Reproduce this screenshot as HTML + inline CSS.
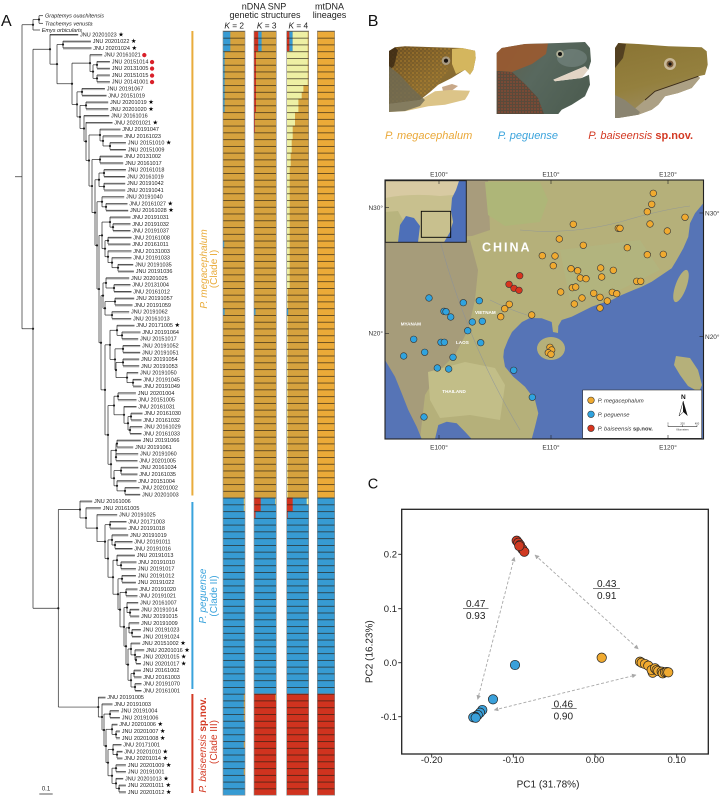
<!DOCTYPE html>
<html><head><meta charset="utf-8">
<style>
html,body{margin:0;padding:0;background:#fff;}
body{width:721px;height:796px;position:relative;overflow:hidden;font-family:"Liberation Sans","DejaVu Sans",sans-serif;}
svg{position:absolute;left:0;top:0;}
.s{font-size:6.2px;fill:#000;font-family:"DejaVu Sans",sans-serif;}
.rd{font-size:5.6px;fill:#d9202a;font-family:"DejaVu Sans",sans-serif;}
#tree line{stroke:#2a2a2a;stroke-width:0.7;}
#tree line.gb{stroke:#b4b4b4;stroke-width:1.5;}
#tree circle{fill:#1a1a1a;}
</style></head><body>
<svg width="721" height="796" viewBox="0 0 721 796" xmlns="http://www.w3.org/2000/svg">
<defs>
<pattern id="sep" x="0" y="31" width="10" height="6.763" patternUnits="userSpaceOnUse"><rect x="0" y="0" width="10" height="0.75" fill="#241d10" fill-opacity="0.85"/></pattern>
<linearGradient id="h1" x1="0" y1="0" x2="1" y2="1"><stop offset="0" stop-color="#6A4E22"/><stop offset="0.55" stop-color="#8A6C30"/><stop offset="1" stop-color="#7A6638"/></linearGradient>
<pattern id="sp1" width="4" height="4" patternUnits="userSpaceOnUse"><circle cx="1" cy="1" r="0.65" fill="#E0A030"/><circle cx="3" cy="3" r="0.5" fill="#D09030"/></pattern>
<linearGradient id="h2" x1="0" y1="0" x2="1" y2="0.5"><stop offset="0" stop-color="#5E5E4A"/><stop offset="0.5" stop-color="#58685E"/><stop offset="1" stop-color="#4E5E52"/></linearGradient>
<pattern id="sp2" width="3" height="3" patternUnits="userSpaceOnUse"><circle cx="1" cy="1" r="0.6" fill="#D2482A"/></pattern>
<linearGradient id="h3" x1="0" y1="0" x2="0.3" y2="1"><stop offset="0" stop-color="#8A7434"/><stop offset="0.6" stop-color="#94803E"/><stop offset="1" stop-color="#9C8C60"/></linearGradient>
<clipPath id="mapc"><rect x="385" y="180" width="318.5" height="259"/></clipPath>
<clipPath id="insc"><rect x="385.3" y="180.7" width="81" height="61.6"/></clipPath>
<marker id="ah" viewBox="0 0 10 10" refX="9" refY="5" markerWidth="5" markerHeight="5" orient="auto-start-reverse"><path d="M0,0 L10,5 L0,10 z" fill="#a8a8a8"/></marker>
</defs>

<!-- ===== PANEL A ===== -->
<text x="1" y="26" font-size="16" fill="#111">A</text>

<g fill="#222" text-anchor="middle">
<text x="264" y="9.3" font-size="9">nDNA SNP</text>
<text x="265" y="18" font-size="9">genetic structures</text>
<text x="329.5" y="9.3" font-size="9">mtDNA</text>
<text x="329.5" y="18" font-size="9">lineages</text>
<text x="234.2" y="28.3" font-size="8.3"><tspan font-style="italic">K</tspan> = 2</text>
<text x="266.7" y="28.3" font-size="8.3"><tspan font-style="italic">K</tspan> = 3</text>
<text x="298.3" y="28.3" font-size="8.3"><tspan font-style="italic">K</tspan> = 4</text>
</g>

<g stroke="#2a2a2a" stroke-width="0.7">
<line x1="39" y1="15.7" x2="39" y2="23.3"/>
<line x1="39" y1="15.7" x2="43" y2="15.7"/>
<line x1="39" y1="23.3" x2="43" y2="23.3"/>
<line x1="33" y1="19.5" x2="33" y2="30"/>
<line x1="33" y1="19.5" x2="39" y2="19.5"/>
<line x1="33" y1="30" x2="40" y2="30"/>
<line x1="22" y1="24.75" x2="33" y2="24.75"/>
</g>
<circle cx="39" cy="19.5" r="1.1" fill="#1a1a1a"/>
<circle cx="33" cy="24.75" r="1.1" fill="#1a1a1a"/>
<g font-size="5.5" font-style="italic" fill="#222">
<text x="45" y="17.7">Graptemys ouachitensis</text>
<text x="45" y="25.3">Trachemys venusta</text>
<text x="41.7" y="32">Emys orbicularis</text>
</g>

<g id="tree"></g>

<text font-size="5.5" fill="#222">
<tspan x="80" y="36.4">JNU 20201023</tspan><tspan class="s" dx="1.5">★</tspan>
<tspan x="92.7" dy="6.763">JNU 20201022</tspan><tspan class="s" dx="1.5">★</tspan>
<tspan x="93.3" dy="6.763">JNU 20201024</tspan><tspan class="s" dx="1.5">★</tspan>
<tspan x="104" dy="6.763">JNU 20161021</tspan><tspan class="rd" dx="1.2">●</tspan>
<tspan x="111.7" dy="6.763">JNU 20151014</tspan><tspan class="rd" dx="1.2">●</tspan>
<tspan x="111.7" dy="6.763">JNU 20131005</tspan><tspan class="rd" dx="1.2">●</tspan>
<tspan x="111.7" dy="6.763">JNU 20151015</tspan><tspan class="rd" dx="1.2">●</tspan>
<tspan x="111.7" dy="6.763">JNU 20141001</tspan><tspan class="rd" dx="1.2">●</tspan>
<tspan x="106.7" dy="6.763">JNU 20191067</tspan>
<tspan x="108.3" dy="6.763">JNU 20151019</tspan>
<tspan x="110" dy="6.763">JNU 20201019</tspan><tspan class="s" dx="1.5">★</tspan>
<tspan x="110" dy="6.763">JNU 20201020</tspan><tspan class="s" dx="1.5">★</tspan>
<tspan x="111" dy="6.763">JNU 20161016</tspan>
<tspan x="114.3" dy="6.763">JNU 20201021</tspan><tspan class="s" dx="1.5">★</tspan>
<tspan x="122.3" dy="6.763">JNU 20191047</tspan>
<tspan x="124.3" dy="6.763">JNU 20161023</tspan>
<tspan x="127.7" dy="6.763">JNU 20151010</tspan><tspan class="s" dx="1.5">★</tspan>
<tspan x="127.7" dy="6.763">JNU 20151009</tspan>
<tspan x="124.3" dy="6.763">JNU 20131002</tspan>
<tspan x="125" dy="6.763">JNU 20161017</tspan>
<tspan x="127.7" dy="6.763">JNU 20161018</tspan>
<tspan x="127" dy="6.763">JNU 20161019</tspan>
<tspan x="127" dy="6.763">JNU 20191042</tspan>
<tspan x="127" dy="6.763">JNU 20191041</tspan>
<tspan x="126" dy="6.763">JNU 20191040</tspan>
<tspan x="129.3" dy="6.763">JNU 20161027</tspan><tspan class="s" dx="1.5">★</tspan>
<tspan x="130" dy="6.763">JNU 20161028</tspan><tspan class="s" dx="1.5">★</tspan>
<tspan x="132.3" dy="6.763">JNU 20191031</tspan>
<tspan x="132.3" dy="6.763">JNU 20191032</tspan>
<tspan x="132.3" dy="6.763">JNU 20191037</tspan>
<tspan x="133.3" dy="6.763">JNU 20161008</tspan>
<tspan x="132.3" dy="6.763">JNU 20161011</tspan>
<tspan x="133.3" dy="6.763">JNU 20131003</tspan>
<tspan x="133.3" dy="6.763">JNU 20191033</tspan>
<tspan x="135" dy="6.763">JNU 20191035</tspan>
<tspan x="135.7" dy="6.763">JNU 20191036</tspan>
<tspan x="131" dy="6.763">JNU 20201025</tspan>
<tspan x="132.3" dy="6.763">JNU 20131004</tspan>
<tspan x="133.3" dy="6.763">JNU 20161012</tspan>
<tspan x="136" dy="6.763">JNU 20191057</tspan>
<tspan x="134.3" dy="6.763">JNU 20191059</tspan>
<tspan x="131" dy="6.763">JNU 20191062</tspan>
<tspan x="133" dy="6.763">JNU 20161013</tspan>
<tspan x="136.3" dy="6.763">JNU 20171005</tspan><tspan class="s" dx="1.5">★</tspan>
<tspan x="142.3" dy="6.763">JNU 20191064</tspan>
<tspan x="140" dy="6.763">JNU 20151017</tspan>
<tspan x="142" dy="6.763">JNU 20191052</tspan>
<tspan x="142" dy="6.763">JNU 20191051</tspan>
<tspan x="141" dy="6.763">JNU 20191054</tspan>
<tspan x="141" dy="6.763">JNU 20191053</tspan>
<tspan x="140" dy="6.763">JNU 20191050</tspan>
<tspan x="143.3" dy="6.763">JNU 20191045</tspan>
<tspan x="143.3" dy="6.763">JNU 20191049</tspan>
<tspan x="137.7" dy="6.763">JNU 20201004</tspan>
<tspan x="138.3" dy="6.763">JNU 20151005</tspan>
<tspan x="138.3" dy="6.763">JNU 20161031</tspan>
<tspan x="144.3" dy="6.763">JNU 20161030</tspan>
<tspan x="143.3" dy="6.763">JNU 20161032</tspan>
<tspan x="144" dy="6.763">JNU 20161029</tspan>
<tspan x="143.3" dy="6.763">JNU 20161033</tspan>
<tspan x="142.7" dy="6.763">JNU 20191066</tspan>
<tspan x="135" dy="6.763">JNU 20191061</tspan>
<tspan x="140" dy="6.763">JNU 20191060</tspan>
<tspan x="139.3" dy="6.763">JNU 20201005</tspan>
<tspan x="140" dy="6.763">JNU 20161034</tspan>
<tspan x="139.3" dy="6.763">JNU 20161035</tspan>
<tspan x="138.3" dy="6.763">JNU 20151004</tspan>
<tspan x="141.3" dy="6.763">JNU 20201002</tspan>
<tspan x="142" dy="6.763">JNU 20201003</tspan>
<tspan x="94" dy="6.763">JNU 20161006</tspan>
<tspan x="102.7" dy="6.763">JNU 20161005</tspan>
<tspan x="119" dy="6.763">JNU 20191025</tspan>
<tspan x="128.3" dy="6.763">JNU 20171003</tspan>
<tspan x="128.3" dy="6.763">JNU 20191018</tspan>
<tspan x="130" dy="6.763">JNU 20191019</tspan>
<tspan x="134.3" dy="6.763">JNU 20191011</tspan>
<tspan x="134.3" dy="6.763">JNU 20191016</tspan>
<tspan x="136.7" dy="6.763">JNU 20191013</tspan>
<tspan x="138.3" dy="6.763">JNU 20191010</tspan>
<tspan x="137.7" dy="6.763">JNU 20191017</tspan>
<tspan x="137.7" dy="6.763">JNU 20191012</tspan>
<tspan x="137.7" dy="6.763">JNU 20191022</tspan>
<tspan x="139.3" dy="6.763">JNU 20191020</tspan>
<tspan x="139.3" dy="6.763">JNU 20191021</tspan>
<tspan x="140" dy="6.763">JNU 20161007</tspan>
<tspan x="141" dy="6.763">JNU 20191014</tspan>
<tspan x="141" dy="6.763">JNU 20191015</tspan>
<tspan x="141" dy="6.763">JNU 20191009</tspan>
<tspan x="142.7" dy="6.763">JNU 20191023</tspan>
<tspan x="142.7" dy="6.763">JNU 20191024</tspan>
<tspan x="142" dy="6.763">JNU 20151002</tspan><tspan class="s" dx="1.5">★</tspan>
<tspan x="146" dy="6.763">JNU 20201016</tspan><tspan class="s" dx="1.5">★</tspan>
<tspan x="142.7" dy="6.763">JNU 20201015</tspan><tspan class="s" dx="1.5">★</tspan>
<tspan x="142.7" dy="6.763">JNU 20201017</tspan><tspan class="s" dx="1.5">★</tspan>
<tspan x="142.7" dy="6.763">JNU 20161002</tspan>
<tspan x="143.3" dy="6.763">JNU 20161003</tspan>
<tspan x="143.3" dy="6.763">JNU 20191070</tspan>
<tspan x="143.3" dy="6.763">JNU 20161001</tspan>
<tspan x="107.3" dy="6.763">JNU 20191005</tspan>
<tspan x="114.3" dy="6.763">JNU 20191003</tspan>
<tspan x="120.7" dy="6.763">JNU 20191004</tspan>
<tspan x="121.7" dy="6.763">JNU 20191006</tspan>
<tspan x="119.3" dy="6.763">JNU 20201006</tspan><tspan class="s" dx="1.5">★</tspan>
<tspan x="121.7" dy="6.763">JNU 20201007</tspan><tspan class="s" dx="1.5">★</tspan>
<tspan x="121.7" dy="6.763">JNU 20201008</tspan><tspan class="s" dx="1.5">★</tspan>
<tspan x="123.3" dy="6.763">JNU 20171001</tspan>
<tspan x="124.3" dy="6.763">JNU 20201010</tspan><tspan class="s" dx="1.5">★</tspan>
<tspan x="124.3" dy="6.763">JNU 20201014</tspan><tspan class="s" dx="1.5">★</tspan>
<tspan x="127.7" dy="6.763">JNU 20201009</tspan><tspan class="s" dx="1.5">★</tspan>
<tspan x="127.7" dy="6.763">JNU 20191001</tspan>
<tspan x="125" dy="6.763">JNU 20201013</tspan><tspan class="s" dx="1.5">★</tspan>
<tspan x="127.7" dy="6.763">JNU 20201011</tspan><tspan class="s" dx="1.5">★</tspan>
<tspan x="127.7" dy="6.763">JNU 20201012</tspan><tspan class="s" dx="1.5">★</tspan>
</text>

<line x1="39.3" y1="794" x2="52.7" y2="794" stroke="#333" stroke-width="0.8"/>
<text x="46" y="790.5" font-size="6" text-anchor="middle" fill="#222">0.1</text>

<rect x="191.4" y="31" width="2" height="464.5" fill="#E9AC3C"/>
<rect x="191.4" y="502" width="2" height="187" fill="#3AA3DC"/>
<rect x="191.4" y="694" width="2" height="99" fill="#D33A24"/>
<g font-size="10" text-anchor="middle">
<text transform="translate(207,269) rotate(-90)" fill="#E9AC3C" font-style="italic">P. megacephalum</text>
<text transform="translate(217,269) rotate(-90)" fill="#E9AC3C">(Clade I)</text>
<text transform="translate(206,596) rotate(-90)" fill="#3AA3DC" font-style="italic">P. peguense</text>
<text transform="translate(217,596) rotate(-90)" fill="#3AA3DC">(Clade II)</text>
<text transform="translate(206,745) rotate(-90)" fill="#D33A24"><tspan font-style="italic">P. baiseensis </tspan><tspan font-weight="bold">sp.nov.</tspan></text>
<text transform="translate(217,742) rotate(-90)" fill="#D33A24">(Clade III)</text>
</g>

<g>
<rect x="223" y="31" width="22" height="466.65" fill="#D6A23E"/>
<rect x="223" y="497.65" width="22" height="297.57" fill="#379BD3"/>
<rect x="223" y="31" width="7.3" height="20.29" fill="#379BD3"/>
<rect x="223" y="51.29" width="1.6" height="60.87" fill="#379BD3"/>
<rect x="223" y="240.65" width="1.2" height="6.763" fill="#379BD3"/>
<rect x="223" y="308.28" width="1.6" height="6.763" fill="#379BD3"/>
<rect x="243.8" y="497.65" width="1.2" height="13.53" fill="#E8D070"/>
<rect x="243.8" y="693.77" width="1.2" height="27.05" fill="#D6A23E"/>
<rect x="243.8" y="741.1" width="1.2" height="6.763" fill="#D6A23E"/>
<rect x="243.8" y="768.15" width="1.2" height="6.763" fill="#D6A23E"/>
<rect x="254" y="31" width="22.3" height="466.65" fill="#D6A23E"/>
<rect x="254" y="497.65" width="22.3" height="196.12" fill="#379BD3"/>
<rect x="254" y="693.77" width="22.3" height="101.45" fill="#D0331F"/>
<rect x="254" y="31" width="4.3" height="20.29" fill="#D0331F"/>
<rect x="258.3" y="31" width="3.3" height="20.29" fill="#379BD3"/>
<rect x="254" y="51.29" width="2" height="60.87" fill="#D0331F"/>
<rect x="254" y="112.15" width="1" height="20.29" fill="#D0331F"/>
<rect x="254" y="308.28" width="1.5" height="6.763" fill="#379BD3"/>
<rect x="254" y="497.65" width="6.7" height="13.53" fill="#D0331F"/>
<rect x="275.3" y="497.65" width="1" height="6.763" fill="#E8D070"/>
<rect x="254" y="511.18" width="1.5" height="6.763" fill="#D0331F"/>
<rect x="275.3" y="693.77" width="1" height="6.763" fill="#D6A23E"/>
<rect x="286.7" y="31" width="22" height="466.65" fill="#D6A23E"/>
<rect x="286.7" y="497.65" width="22" height="196.12" fill="#379BD3"/>
<rect x="286.7" y="693.77" width="22" height="101.45" fill="#D0331F"/>
<rect x="286.7" y="31" width="2.7" height="20.29" fill="#D0331F"/>
<rect x="289.4" y="31" width="3.3" height="20.29" fill="#379BD3"/>
<rect x="292.7" y="31" width="15" height="20.29" fill="#EEF0A4"/>
<rect x="286.7" y="51.29" width="21" height="33.82" fill="#EEF0A4"/>
<rect x="286.7" y="85.1" width="16.7" height="6.77" fill="#EEF0A4"/>
<rect x="286.7" y="91.87" width="15" height="6.77" fill="#EEF0A4"/>
<rect x="286.7" y="98.63" width="11.7" height="13.53" fill="#EEF0A4"/>
<rect x="286.7" y="112.15" width="8.3" height="13.53" fill="#EEF0A4"/>
<rect x="286.7" y="125.68" width="6" height="13.53" fill="#EEF0A4"/>
<rect x="286.7" y="139.21" width="5" height="13.53" fill="#EEF0A4"/>
<rect x="286.7" y="152.73" width="4" height="13.53" fill="#EEF0A4"/>
<rect x="286.7" y="166.26" width="3" height="121.73" fill="#EEF0A4"/>
<rect x="286.7" y="287.99" width="1" height="209.66" fill="#EEF0A4"/>
<rect x="286.7" y="308.28" width="1.5" height="6.763" fill="#379BD3"/>
<rect x="286.7" y="497.65" width="6" height="13.53" fill="#D0331F"/>
<rect x="306.7" y="497.65" width="2" height="6.763" fill="#EEF0A4"/>
<rect x="286.7" y="511.18" width="1" height="6.763" fill="#D0331F"/>
<rect x="317.3" y="31" width="17.4" height="466.65" fill="#EBAA38"/>
<rect x="317.3" y="497.65" width="17.4" height="196.12" fill="#379BD3"/>
<rect x="317.3" y="693.77" width="17.4" height="101.45" fill="#D0331F"/>
<rect x="223" y="31" width="22" height="764.3" fill="url(#sep)"/>
<rect x="254" y="31" width="22.3" height="764.3" fill="url(#sep)"/>
<rect x="286.7" y="31" width="22" height="764.3" fill="url(#sep)"/>
<rect x="317.3" y="31" width="17.4" height="764.3" fill="url(#sep)"/>
<g fill="none" stroke="#8a8a8a" stroke-width="0.6">
<rect x="223" y="31" width="22" height="764.2"/>
<rect x="254" y="31" width="22.3" height="764.2"/>
<rect x="286.7" y="31" width="22" height="764.2"/>
<rect x="317.3" y="31" width="17.4" height="764.2"/>
</g>
</g>

<!-- ===== PANEL B ===== -->
<text x="367.7" y="26" font-size="16" fill="#111">B</text>

<!-- photo 1 -->
<g>
<path d="M389,51 L395,47.3 L405,46.3 L435,47.3 L461.7,48 L475,50.7 L475.7,58 L473.3,69.7 L470,74.7 L465,69.7 L451.7,78 L438.3,84.7 L430,92 L420,100 L389,104 Z" fill="url(#h1)"/>
<path d="M389,51 L395,47.3 L405,46.3 L435,47.3 L450,48 L448,70 L438.3,84.7 L420,100 L389,104 Z" fill="url(#sp1)" opacity="0.8"/>
<path d="M389,51 L395,47.3 L398,50 L394,66 L389,70 Z" fill="#3a2814" opacity="0.8"/>
<path d="M452,49 L461.7,48 L475,50.7 L475.7,58 L473.3,69.7 L470,74.7 L465,69.7 L456,74 L452,64 Z" fill="#D4B65E"/>
<path d="M442,87 L452,84 L458,86 L452,90.5 L443,91 Z" fill="#C8A888"/>
<path d="M435,91.3 L450,90 L470,90.7 L468,95 L465,99.7 L445,104.7 L428.3,106.3 L405,111.3 L389,112 L389,104 L420,100 Z" fill="#DCC488"/>
<path d="M389,66 L400,75 L412,88 L425,100 L420,106 L405,111 L389,112 Z" fill="#6E6A55" opacity="0.8"/>
<circle cx="446" cy="60.7" r="4.3" fill="#A89A80"/>
<circle cx="446" cy="60.7" r="2.1" fill="#1a1410"/>
</g>
<!-- photo 2 -->
<g>
<path d="M496.7,53 L501.7,48 L525,44 L558.3,43 L585,42 L590,48 L591,61.3 L588.3,69.7 L585,66.3 L565,74.7 L553.3,79.7 L555,81.3 L581.7,78 L589,74.7 L590,84.7 L585,96.3 L571.7,104.7 L561.7,109.7 L558.3,114 L496.7,114 Z" fill="url(#h2)"/>
<path d="M496.7,53 L501.7,48 L525,44 L548,43.5 L546,54 L532,64 L512,72 L496.7,71 Z" fill="#9A5A30" opacity="0.9"/>
<ellipse cx="572" cy="58" rx="15" ry="9" fill="#7C8C88" opacity="0.55"/>
<path d="M496.7,71 L512,72 L525,84 L538,98 L544,114 L496.7,114 Z" fill="#5A4A3A"/>
<path d="M496.7,71 L512,72 L525,84 L538,98 L544,114 L496.7,114 Z" fill="url(#sp2)" opacity="0.9"/>
<path d="M553.3,79.7 L565,74.7 L585,66.3 L588,70 L581.7,78 L555,81.3 Z" fill="#E2D4C4"/>
<circle cx="560" cy="54" r="3.8" fill="#B0B098"/>
<circle cx="560" cy="54" r="2" fill="#111"/>
</g>
<!-- photo 3 -->
<g>
<path d="M615,48 L618.3,43 L638.3,44 L668.3,46.3 L701.7,47.3 L706.7,51.3 L707.7,64.7 L705,74.7 L698.3,76.3 L700,78 L691.7,88 L678.3,93 L665,96.3 L658.3,104.7 L651.7,109.7 L638.3,114.7 L618.3,118 L615,118 Z" fill="url(#h3)"/>
<path d="M615,48 L618.3,43 L626,44 L623,58 L615,68 Z" fill="#3a2a18" opacity="0.7"/>
<path d="M645,100 L655,91.3 L698.3,76.3 L700,78 L691.7,88 L678.3,93 L665,96.3 L658.3,104.7 L651.7,109.7 L638.3,114.7 L632,111 Z" fill="#ACA084"/>
<path d="M645,100 L655,91.3 L698.3,76.3" stroke="#3a2a18" stroke-width="0.9" fill="none"/>
<path d="M615,95 L625,100 L640,112 L638.3,114.7 L618.3,118 L615,118 Z" fill="#8A8470"/>
<circle cx="670" cy="64" r="6" fill="#C8B898"/>
<circle cx="670" cy="64" r="3.5" fill="#7a5a38"/>
<circle cx="670" cy="64" r="1.6" fill="#111"/>
</g>
<g font-size="11">
<text x="385" y="139" fill="#EAA838" font-style="italic">P. megacephalum</text>
<text x="497.7" y="139" fill="#3AA3DC" font-style="italic">P. peguense</text>
<text x="588.3" y="139" fill="#D33A24"><tspan font-style="italic">P. baiseensis </tspan><tspan font-weight="bold">sp.nov.</tspan></text>
</g>

<g clip-path="url(#mapc)">
<rect x="385" y="180" width="318.5" height="259" fill="#B5B07A"/>
<path d="M385,240 L472,236 L490,230 L488,180 L385,180 Z" fill="#A89C7C"/>
<path d="M385,240 L470,240 L478,270 L475,300 L468,330 L455,355 L440,370 L425,395 L420,439 L385,439 Z" fill="#A69C7A"/>
<path d="M428,372 L465,362 L495,368 L505,385 L500,420 L470,415 L440,418 L430,400 Z" fill="#C2BE88"/>
<path d="M485,182 L540,182 L548,200 L540,222 L505,226 L488,215 Z" fill="#AEB678"/>
<path d="M560,250 L640,240 L660,270 L620,290 L570,300 Z" fill="#B2B47E"/>
<path d="M703.3,203.3 L695,213.3 L690,223.3 L688.3,236.7 L683.3,248.3 L676.7,260 L671.7,268.3 L661.7,275 L651.7,281.7 L641.7,286.7 L631.7,290.7 L621.7,295 L611.7,300 L601.7,303.3 L591.7,306.7 L581.7,311.7 L571.7,316.7 L561.7,320 L558.3,326 L558,333 L553,332 L551.7,322 L541.7,318.3 L530,318 L522,322 L512,332 L508,340 L504,350 L503.3,357 L505,366.7 L513.3,376.7 L525,386.7 L535,400 L538.3,413.3 L535,426.7 L531.7,439 L703.5,439 Z" fill="#5674B6"/>
<path d="M385,360 L395,376.7 L401.7,393.3 L408.3,410 L416.7,426.7 L421.7,439 L385,439 Z" fill="#5674B6"/>
<path d="M435,439 L438.3,425 L446.7,421.7 L456.7,423.3 L465,431.7 L471.7,439 Z" fill="#5674B6"/>
<ellipse cx="551" cy="348.5" rx="14" ry="11.5" fill="#B5B07A"/>
<ellipse cx="681" cy="286" rx="5.5" ry="17" transform="rotate(20 681 286)" fill="#B5B07A"/>
<path d="M676,356 L690,358 L698,370 L702,385 L699,392 L688,386 L680,375 L674,365 Z" fill="#B5B07A"/>
<g fill="none" stroke="#8890a0" stroke-width="0.6" opacity="0.7">
<path d="M440,240 Q450,280 470,330 Q490,380 520,430"/>
<path d="M490,300 Q510,310 530,316"/>
<path d="M520,230 Q570,235 620,222 Q660,210 690,206"/>
</g>
<g clip-path="url(#insc)">
<rect x="385.3" y="180.7" width="81" height="61.6" fill="#D8CAA2"/>
<path d="M385.3,198 Q410,193 440,196 L466,194 L466,242.3 L385.3,242.3 Z" fill="#C8C08E"/>
<path d="M385.3,212 L398,211 L404,222 L398,242.3 L385.3,242.3 Z" fill="#B8B47E"/>
<path d="M398,242.3 L400,225 L406,216 L414,218 L420,226 L418,242.3 Z" fill="#4D6FB8"/>
<path d="M466.3,180.7 L459,181 L456,190 L452,198 L451,210 L453,222 L450,232 L444,242.3 L466.3,242.3 Z" fill="#4D6FB8"/>
<rect x="421.3" y="211.3" width="29.4" height="26" fill="none" stroke="#000" stroke-width="0.9"/>
</g>
<rect x="385.3" y="180.7" width="81" height="61.6" fill="none" stroke="#222" stroke-width="1"/>
<g stroke="#333" stroke-width="0.6" fill="#F0AA30">
<circle cx="653.3" cy="193.3" r="3.3"/><circle cx="651.7" cy="204.3" r="3.3"/><circle cx="647.3" cy="211.7" r="3.3"/>
<circle cx="650" cy="224" r="3.3"/><circle cx="685" cy="217.3" r="3.3"/><circle cx="573.3" cy="224.3" r="3.3"/>
<circle cx="618.3" cy="228.3" r="3.3"/><circle cx="620" cy="228.3" r="3.3"/><circle cx="667.3" cy="231" r="3.3"/>
<circle cx="559.3" cy="239" r="3.3"/><circle cx="583.3" cy="245.3" r="3.3"/><circle cx="627.3" cy="247.7" r="3.3"/>
<circle cx="542.3" cy="255.7" r="3.3"/><circle cx="555" cy="256" r="3.3"/><circle cx="647.3" cy="254.7" r="3.3"/>
<circle cx="663.3" cy="254.3" r="3.3"/><circle cx="553.3" cy="265.7" r="3.3"/><circle cx="571" cy="268.7" r="3.3"/>
<circle cx="577.7" cy="270.7" r="3.3"/><circle cx="600.7" cy="268" r="3.3"/><circle cx="613.3" cy="270.3" r="3.3"/>
<circle cx="580.3" cy="278" r="3.3"/><circle cx="586" cy="278.7" r="3.3"/><circle cx="601.7" cy="277" r="3.3"/>
<circle cx="636.7" cy="281.3" r="3.3"/><circle cx="640.7" cy="281.3" r="3.3"/><circle cx="560.7" cy="292" r="3.3"/>
<circle cx="572.3" cy="287.7" r="3.3"/><circle cx="575.7" cy="287" r="3.3"/><circle cx="593.7" cy="293.3" r="3.3"/>
<circle cx="600" cy="297.3" r="3.3"/><circle cx="612.3" cy="292.3" r="3.3"/><circle cx="616.7" cy="293.7" r="3.3"/>
<circle cx="582" cy="298" r="3.3"/><circle cx="607.3" cy="301" r="3.3"/><circle cx="574.3" cy="304" r="3.3"/>
<circle cx="600" cy="308" r="3.3"/><circle cx="509.3" cy="304.3" r="3.3"/><circle cx="504.7" cy="308.7" r="3.3"/>
<circle cx="500.7" cy="316.7" r="3.3"/><circle cx="531.7" cy="315" r="3.3"/><circle cx="550" cy="347.3" r="3.3"/>
<circle cx="551.7" cy="350" r="3.3"/><circle cx="548.3" cy="352.7" r="3.3"/><circle cx="551" cy="354.3" r="3.3"/>
</g>
<g stroke="#333" stroke-width="0.6" fill="#D8341E">
<circle cx="519.7" cy="275.7" r="3.3"/><circle cx="509" cy="284.3" r="3.3"/><circle cx="514" cy="288.3" r="3.3"/><circle cx="519" cy="290.3" r="3.3"/>
</g>
<g stroke="#333" stroke-width="0.6" fill="#2FA3DF">
<circle cx="429" cy="298" r="3.3"/><circle cx="463.3" cy="302.7" r="3.3"/><circle cx="479.3" cy="300.7" r="3.3"/>
<circle cx="444" cy="311.3" r="3.3"/><circle cx="446" cy="311.7" r="3.3"/><circle cx="450.7" cy="317" r="3.3"/>
<circle cx="472.3" cy="322" r="3.3"/><circle cx="482.3" cy="321.3" r="3.3"/><circle cx="467.7" cy="330.7" r="3.3"/>
<circle cx="413.7" cy="339.3" r="3.3"/><circle cx="441" cy="342.3" r="3.3"/><circle cx="444.3" cy="342.3" r="3.3"/>
<circle cx="480.7" cy="342.7" r="3.3"/><circle cx="424.7" cy="352.3" r="3.3"/><circle cx="403.7" cy="356" r="3.3"/>
<circle cx="453" cy="357.3" r="3.3"/><circle cx="437.3" cy="368" r="3.3"/><circle cx="448.7" cy="369" r="3.3"/>
<circle cx="513.7" cy="370.3" r="3.3"/><circle cx="532.3" cy="397.3" r="3.3"/><circle cx="424" cy="417" r="3.3"/>
</g>
<text x="482" y="251.5" font-size="12.5" font-weight="bold" fill="#fff" letter-spacing="2">CHINA</text>
<g font-size="4.6" font-weight="bold" fill="#fff">
<text x="400.7" y="325.5">MYANAM</text>
<text x="456" y="344">LAOS</text>
<text x="475" y="314">VIETNAM</text>
<text x="442.3" y="392.8">THAILAND</text>
</g>
<rect x="582.7" y="390" width="119" height="48.3" fill="#fff" stroke="#333" stroke-width="0.6"/>
<circle cx="591" cy="400.3" r="3.3" fill="#F0AA30" stroke="#333" stroke-width="0.6"/>
<circle cx="591" cy="414.3" r="3.3" fill="#2FA3DF" stroke="#333" stroke-width="0.6"/>
<circle cx="591" cy="428.3" r="3.3" fill="#D8341E" stroke="#333" stroke-width="0.6"/>
<g font-size="5.8" fill="#333">
<text x="597.7" y="402.3" font-style="italic">P. megacephalum</text>
<text x="597.7" y="416.3" font-style="italic">P. peguense</text>
<text x="597.7" y="430.3"><tspan font-style="italic">P. baiseensis </tspan><tspan font-weight="bold">sp.nov.</tspan></text>
</g>
<text x="683.3" y="399" font-size="6.5" font-weight="bold" text-anchor="middle" fill="#111">N</text>
<path d="M683.3,401 L679,416 L683.3,412 Z" fill="#fff" stroke="#111" stroke-width="0.5"/>
<path d="M683.3,401 L687.7,416 L683.3,412 Z" fill="#111"/>
<line x1="668" y1="426.7" x2="697" y2="426.7" stroke="#333" stroke-width="0.6"/>
<line x1="668" y1="425" x2="668" y2="426.7" stroke="#333" stroke-width="0.5"/>
<line x1="682.5" y1="425" x2="682.5" y2="426.7" stroke="#333" stroke-width="0.5"/>
<line x1="697" y1="425" x2="697" y2="426.7" stroke="#333" stroke-width="0.5"/>
<g font-size="2.6" fill="#333" text-anchor="middle">
<text x="668" y="424.5">0</text><text x="682.5" y="424.5">200</text><text x="697" y="424.5">400</text>
<text x="682.5" y="430.5">Kilometers</text>
</g>
</g>
<rect x="385" y="180" width="318.5" height="259" fill="none" stroke="#222" stroke-width="1.1"/>
<g stroke="#222" stroke-width="0.6">
<line x1="439" y1="180" x2="439" y2="184"/><line x1="551" y1="180" x2="551" y2="184"/><line x1="668" y1="180" x2="668" y2="184"/>
<line x1="439" y1="435" x2="439" y2="439"/><line x1="551" y1="435" x2="551" y2="439"/><line x1="668" y1="435" x2="668" y2="439"/>
<line x1="385" y1="207.7" x2="389" y2="207.7"/><line x1="385" y1="333.3" x2="389" y2="333.3"/>
<line x1="699.5" y1="213" x2="703.5" y2="213"/><line x1="699.5" y1="336.7" x2="703.5" y2="336.7"/>
</g>
<g font-size="6.5" fill="#333">
<g text-anchor="middle">
<text x="439" y="176.5">E100°</text><text x="551" y="176.5">E110°</text><text x="668" y="176.5">E120°</text>
<text x="439" y="449.5">E100°</text><text x="551" y="449.5">E110°</text><text x="668" y="449.5">E120°</text>
</g>
<text x="383" y="210" text-anchor="end">N30°</text>
<text x="383" y="335.5" text-anchor="end">N20°</text>
<text x="705" y="215.3">N30°</text>
<text x="705" y="339">N20°</text>
</g>

<!-- ===== PANEL C ===== -->
<text x="367.7" y="488.3" font-size="14.5" fill="#111">C</text>
<rect x="401.7" y="509.3" width="306.6" height="244.7" fill="none" stroke="#222" stroke-width="1.3"/>
<g stroke="#222" stroke-width="0.9">
<line x1="431.7" y1="754" x2="431.7" y2="757.5"/><line x1="513.3" y1="754" x2="513.3" y2="757.5"/>
<line x1="595" y1="754" x2="595" y2="757.5"/><line x1="676.7" y1="754" x2="676.7" y2="757.5"/>
<line x1="398.2" y1="554.3" x2="401.7" y2="554.3"/><line x1="398.2" y1="608.7" x2="401.7" y2="608.7"/>
<line x1="398.2" y1="662.7" x2="401.7" y2="662.7"/><line x1="398.2" y1="716.7" x2="401.7" y2="716.7"/>
</g>
<g font-size="9.5" fill="#222">
<g text-anchor="middle">
<text x="431.7" y="763">-0.20</text><text x="513.3" y="763">-0.10</text>
<text x="595" y="763">0.00</text><text x="676.7" y="763">0.10</text>
</g>
<g text-anchor="end">
<text x="397" y="557.7">0.2</text><text x="397" y="612">0.1</text>
<text x="397" y="666">0.0</text><text x="397" y="720">-0.1</text>
</g>
</g>
<text x="548" y="787.5" font-size="10" text-anchor="middle" fill="#222">PC1 (31.78%)</text>
<text transform="translate(372.5,651.7) rotate(-90)" font-size="10" text-anchor="middle" fill="#222">PC2 (16.23%)</text>

<g stroke="#a8a8a8" stroke-width="0.9" stroke-dasharray="3,2" fill="none">
<line x1="514.3" y1="557.3" x2="477.7" y2="699.3" marker-start="url(#ah)" marker-end="url(#ah)"/>
<line x1="535" y1="555" x2="638.3" y2="649" marker-start="url(#ah)" marker-end="url(#ah)"/>
<line x1="494.3" y1="710" x2="636" y2="675" marker-start="url(#ah)" marker-end="url(#ah)"/>
</g>
<g font-size="10" fill="#222" text-anchor="middle">
<text x="606.7" y="587">0.43</text><text x="606.7" y="599">0.91</text>
<text x="475.7" y="607">0.47</text><text x="475.7" y="619">0.93</text>
<text x="563.3" y="707.3">0.46</text><text x="563.3" y="719.7">0.90</text>
</g>
<g stroke="#333" stroke-width="0.7">
<line x1="593" y1="588.3" x2="620" y2="588.3"/>
<line x1="463" y1="608.3" x2="488.5" y2="608.3"/>
<line x1="551.5" y1="708.7" x2="576.7" y2="708.7"/>
</g>
<g stroke="#222" stroke-width="0.7" fill="#D03A22">
<circle cx="516.7" cy="540.7" r="4.7"/><circle cx="518.3" cy="542.7" r="4.7"/><circle cx="520" cy="545" r="4.7"/>
<circle cx="522.3" cy="549" r="4.7"/><circle cx="524.3" cy="551.7" r="4.7"/><circle cx="519.3" cy="546" r="4.7"/>
</g>
<g stroke="#222" stroke-width="0.7" fill="#3AA0DA">
<circle cx="515" cy="665" r="4.7"/><circle cx="493" cy="699.3" r="4.7"/><circle cx="482.3" cy="710" r="4.7"/>
<circle cx="480" cy="712.7" r="4.7"/><circle cx="477.7" cy="715" r="4.7"/><circle cx="475" cy="716.7" r="4.7"/>
<circle cx="473.3" cy="717.3" r="4.7"/><circle cx="475.7" cy="717.7" r="4.7"/>
</g>
<g stroke="#222" stroke-width="0.7" fill="#F0AA30">
<circle cx="601.7" cy="657.7" r="4.7"/><circle cx="640" cy="661.7" r="4.7"/><circle cx="641.7" cy="662.7" r="4.7"/>
<circle cx="645" cy="664" r="4.7"/><circle cx="648.3" cy="665.7" r="4.7"/><circle cx="652.7" cy="672.7" r="4.7"/>
<circle cx="651.7" cy="670" r="4.7"/><circle cx="655" cy="668.3" r="4.7"/><circle cx="656.7" cy="670" r="4.7"/>
<circle cx="658.3" cy="671" r="4.7"/><circle cx="661.7" cy="671.7" r="4.7"/><circle cx="662.7" cy="673.3" r="4.7"/>
<circle cx="665" cy="672.3" r="4.7"/><circle cx="666.7" cy="672" r="4.7"/><circle cx="668.3" cy="672.3" r="4.7"/>
</g>
</svg>
<script>
(function(){
try{
var L=[80,92.7,93.3,104,111.7,111.7,111.7,111.7,106.7,108.3,110,110,111,114.3,122.3,124.3,127.7,127.7,124.3,125,127.7,127,127,127,126,129.3,130,132.3,132.3,132.3,133.3,132.3,133.3,133.3,135,135.7,131,132.3,133.3,136,134.3,131,133,136.3,142.3,140,142,142,141,141,140,143.3,143.3,137.7,138.3,138.3,144.3,143.3,144,143.3,142.7,135,140,139.3,140,139.3,138.3,141.3,142,94,102.7,119,128.3,128.3,130,134.3,134.3,136.7,138.3,137.7,137.7,137.7,139.3,139.3,140,141,141,141,142.7,142.7,142,146,142.7,142.7,142.7,143.3,143.3,143.3,107.3,114.3,120.7,121.7,119.3,121.7,121.7,123.3,124.3,124.3,127.7,127.7,125,127.7,127.7];
var NS='http://www.w3.org/2000/svg';
var g=document.getElementById('tree');
function ty(i){return 34.38+(i-1)*6.763;}
function ln(x1,y1,x2,y2,c){var e=document.createElementNS(NS,'line');e.setAttribute('x1',x1);e.setAttribute('y1',y1);e.setAttribute('x2',x2);e.setAttribute('y2',y2);if(c)e.setAttribute('class',c);g.appendChild(e);}
function dot(x,y){var e=document.createElementNS(NS,'circle');e.setAttribute('cx',x);e.setAttribute('cy',y);e.setAttribute('r',1.1);g.appendChild(e);}
function d(n,px){
 if(typeof n==='number'){var y=ty(n),xe=L[n-1]-1.8;ln(px,y+0.9,xe,y+0.9,'gb');ln(px,y,xe,y);return y;}
 var x=n[0],ys=[];for(var k=1;k<n.length;k++)ys.push(d(n[k],x));
 var y0=ys[0],y1=ys[ys.length-1],y=(y0+y1)/2;
 ln(x,y0,x,y1);
 if(px!==null)ln(px,y,x,y);
 dot(x,y);
 return y;
}
var S8=[100,15,[103,16,[110,17,18]]];
var S9=[100,19,20];
var S10=[99,[104,21,22],[104,23,24]];
var S11=[102,25,[106,26,27]];
var S12=[110,28,[113,29,30]];
var S13=[105,[108,31,32],[108,33,[112,34,[118,35,36]]]];
var S14=[106,37,[114,38,39]];
var S15=[105,[115,40,41],[112,42,43]];
var S16a=[117,44,[122,45,46]];
var S16b=[116,[123,49,50],[127,51,[133,52,53]]];
var S16=[110,S16a,[115,[123,47,48],S16b]];
var S17=[114,[118,54,55],[124,56,[128,[131,57,58],[130,59,60]]]];
var S18=[111,[116,[117,61,62],[116,63,64]],[114,[121,65,66],[117,67,[125,68,69]]]];
var X14=[108,S17,S18];
var X13=[105,S16,X14];
var X12=[101,[103,S14,S15],X13];
var X11=[99,[102,S12,S13],X12];
var X10=[97,S11,X11];
var X9=[95,S10,X10];
var X8=[92,S9,X9];
var X7=[89,S8,X8];
var X6=[86,14,X7];
var X5=[84,13,X6];
var X4=[80,[86,11,12],X5];
var X3=[77,[82,9,10],X4];
var RD=[90,4,[93,[97,5,6],[97,7,8]]];
var X2=[72,RD,X3];
var X1=[57,[63,2,3],X2];
var C1=[50,1,X1];
var Q1=[131,91,[135,92,[136,93,94]]];
var Q2=[131,[134,95,96],[135,97,98]];
var Q3=[128,Q1,Q2];
var Q4=[126,[129,88,[132,89,90]],Q3];
var Q5=[124,[127,85,[130,86,87]],Q4];
var Q6=[120,[126,83,84],Q5];
var Q7=[118,[122,81,82],Q6];
var Q8=[113,[117,78,[121,79,80]],Q7];
var Q9=[108,[112,75,[115,76,77]],Q8];
var Q10=[105,[110,73,74],Q9];
var C2=[80,70,[86,71,[97,72,Q10]]];
var R1=[112,[116,109,110],[116,111,[119,112,113]]];
var R2=[108,[113,106,[117,107,108]],R1];
var R3=[106,[112,103,[116,104,105]],R2];
var R4=[104,[110,101,102],R3];
var C3=[98.3,99,[102,100,R4]];
var IN=[33,C1,[58.3,C2,C3]];
var yi=d(IN,null);
ln(22,yi,33,yi);
ln(22,24.75,22,yi);
var ym=(24.75+yi)/2;
ln(15,ym,22,ym);
}catch(e){}
})();
</script>
</body></html>
